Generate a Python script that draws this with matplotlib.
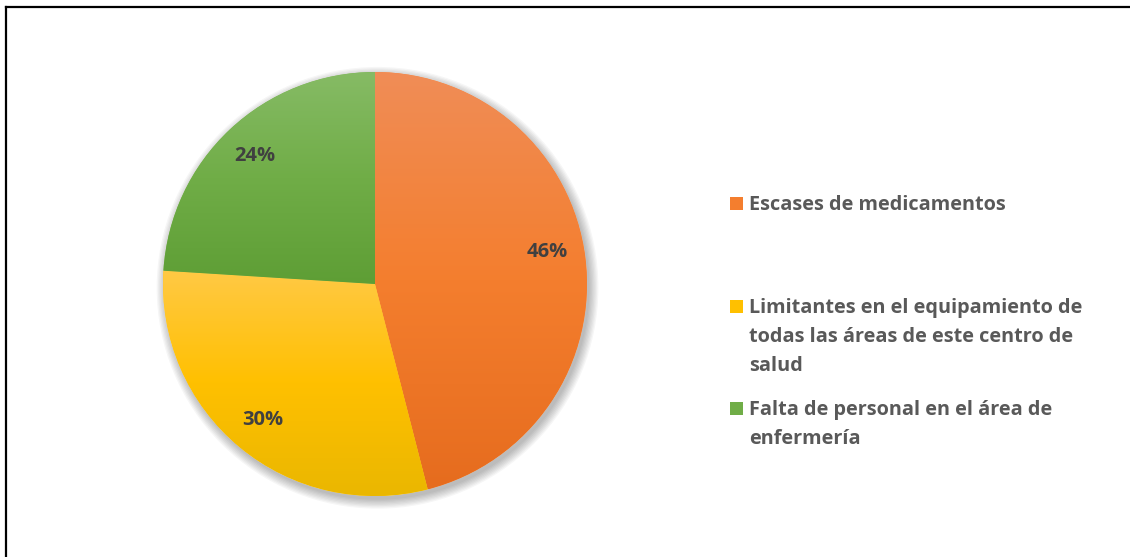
import numpy as np
import matplotlib
matplotlib.use("Agg")
import matplotlib.pyplot as plt
from matplotlib.lines import Line2D
from matplotlib.patches import Circle, Rectangle

categories = [
    "Escases de medicamentos",
    "Limitantes en el equipamiento de\ntodas las áreas de este centro de\nsalud",
    "Falta de personal en el área de\nenfermería",
]
shares = [46, 30, 24]
# (top, middle, bottom) gradient colours per slice
gradients = [
    ("#F08D57", "#F47E2E", "#E66C1E"),
    ("#FFC945", "#FFC000", "#EAB700"),
    ("#86BB65", "#70AD47", "#5E9E35"),
]

W, H = 1130, 557
plt.rcParams["font.family"] = ["Open Sans", "DejaVu Sans"]
fig = plt.figure(figsize=(W / 100, H / 100), dpi=100)


def fx(px):
    return px / W


def fy(py):
    return 1 - py / H


# pie axes: centre (375, 284), radius 212 px
cx, cy, r = 375, 284, 212
ax = fig.add_axes([fx(cx - r), fy(cy + r), 2 * r / W, 2 * r / H])
ax.axis("off")

# soft drop shadow
for k in range(8):
    ax.add_patch(Circle((0.012, -0.018), 1.0 + 0.006 * k, color="#000000",
                        alpha=0.035, lw=0, zorder=0, clip_on=False))
ax.add_patch(Circle((0, 0), 1.0, color="white", lw=0, zorder=0.5))

wedges, texts, autotexts = ax.pie(
    shares,
    startangle=90,
    counterclock=False,
    radius=1.0,
    colors=[g[1] for g in gradients],
    autopct="%1.0f%%",
    pctdistance=0.83,
    wedgeprops=dict(linewidth=0),
    textprops=dict(fontsize=14.5, fontweight="bold", color="#404040"),
    frame=False,
)
ax.set_xlim(-1, 1)
ax.set_ylim(-1, 1)
ax.set_aspect("auto")

t = np.linspace(0, 1, 256)[:, None]
for w, stops in zip(wedges, gradients):
    ext = w.get_path().get_extents()
    c0, c1, c2 = (np.array(matplotlib.colors.to_rgb(c)) for c in stops)
    img = np.where(t < 0.5, c0 + (c1 - c0) * (t / 0.5),
                   c1 + (c2 - c1) * ((t - 0.5) / 0.5))
    img = img[:, None, :]
    im = ax.imshow(img, extent=[ext.x0, ext.x1, ext.y0, ext.y1], origin="upper",
                   aspect="auto", zorder=1, interpolation="bilinear")
    im.set_clip_path(w)

for txt in autotexts:
    txt.set_zorder(5)
# the largest slice's label sits a little above its mid-angle
x0, y0 = autotexts[0].get_position()
autotexts[0].set_position((x0 - 0.01, y0 + 0.045))

# legend drawn beside the pie
swatches = [g[1] for g in gradients]
first_baselines = [210, 312.7, 415]
line_step = 29
for label, col, base in zip(categories, swatches, first_baselines):
    fig.add_artist(Rectangle((fx(729.5), fy(base)), 13 / W, 13 / H,
                             transform=fig.transFigure, color=col, lw=0))
    for i, line in enumerate(label.split("\n")):
        fig.text(fx(749), fy(base + i * line_step), line, fontsize=14.3,
                 fontweight="bold", color="#595959", va="baseline", ha="left")

# outer frame (top and left edges)
fig.add_artist(Line2D([fx(5.5), 1], [fy(6.5), fy(6.5)], color="black", lw=1.6,
                      transform=fig.transFigure))
fig.add_artist(Line2D([fx(5.5), fx(5.5)], [fy(6.5), 0], color="black", lw=1.6,
                      transform=fig.transFigure))

fig.savefig("out.png", dpi=100, facecolor="white")
